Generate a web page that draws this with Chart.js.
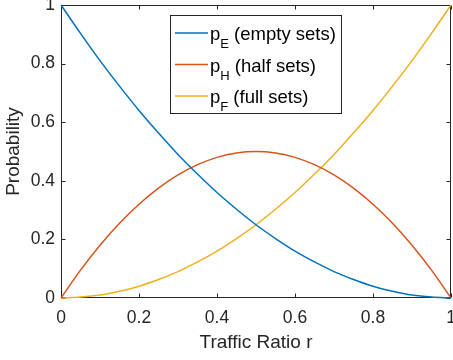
<!DOCTYPE html>
<html>
<head>
<meta charset="utf-8">
<script src="https://cdn.jsdelivr.net/npm/chart.js@4/dist/chart.umd.min.js"></script>
<style>
  html, body { margin: 0; padding: 0; background: #ffffff; }
  #wrap { position: relative; width: 453px; height: 360px; }
</style>
</head>
<body>
<div id="wrap"><canvas id="c" width="453" height="360"></canvas></div>
<script>
// ---- data ----
const rValues = [0, 0.05, 0.1, 0.15, 0.2, 0.25, 0.3, 0.35, 0.4, 0.45, 0.5,
                 0.55, 0.6, 0.65, 0.7, 0.75, 0.8, 0.85, 0.9, 0.95, 1];
const pEmpty = [1.000, 0.903, 0.810, 0.723, 0.640, 0.563, 0.490, 0.423, 0.360, 0.303, 0.250,
                0.203, 0.160, 0.123, 0.090, 0.063, 0.040, 0.023, 0.010, 0.003, 0.000];
const pHalf  = [0.000, 0.095, 0.180, 0.255, 0.320, 0.375, 0.420, 0.455, 0.480, 0.495, 0.500,
                0.495, 0.480, 0.455, 0.420, 0.375, 0.320, 0.255, 0.180, 0.095, 0.000];
const pFull  = [0.000, 0.003, 0.010, 0.023, 0.040, 0.063, 0.090, 0.123, 0.160, 0.203, 0.250,
                0.303, 0.360, 0.423, 0.490, 0.563, 0.640, 0.723, 0.810, 0.903, 1.000];
const xTicks = [0, 0.2, 0.4, 0.6, 0.8, 1];
const yTicks = [0, 0.2, 0.4, 0.6, 0.8, 1];
const seriesNames = ['p', 'p', 'p'];
const seriesSubs = ['E', 'H', 'F'];
const seriesDesc = ['(empty sets)', '(half sets)', '(full sets)'];
const xTitle = 'Traffic Ratio r';
const yTitle = 'Probability';

const colors = ['#0072BD', '#D95319', '#EDB120'];
const axisColor = '#262626';
const FONT = "'Liberation Sans', Arial, Helvetica, sans-serif";

function pts(ys) { return rValues.map((r, i) => ({ x: r, y: ys[i] })); }

const boxPlugin = {
  id: 'matlabBox',
  beforeDatasetsDraw(chart) {
    const ctx = chart.ctx, a = chart.chartArea;
    const xs = chart.scales.x, ys = chart.scales.y;
    ctx.save();
    ctx.strokeStyle = axisColor;
    ctx.lineWidth = 1;
    const L = Math.round(a.left) + 0.5, R = Math.round(a.right) - 0.5;
    const T = Math.round(a.top) + 0.5, B = Math.round(a.bottom) - 0.5;
    ctx.strokeRect(L, T, R - L, B - T);
    const tl = 4;
    ctx.beginPath();
    xTicks.forEach(v => {
      const px = Math.round(xs.getPixelForValue(v)) + 0.5;
      ctx.moveTo(px, B); ctx.lineTo(px, B - tl);
      ctx.moveTo(px, T); ctx.lineTo(px, T + tl);
    });
    yTicks.forEach(v => {
      const py = Math.round(ys.getPixelForValue(v)) + 0.5;
      ctx.moveTo(L, py); ctx.lineTo(L + tl, py);
      ctx.moveTo(R, py); ctx.lineTo(R - tl, py);
    });
    ctx.stroke();
    ctx.restore();
  },
  afterDatasetsDraw(chart) {
    const ctx = chart.ctx;
    ctx.save();
    // legend box
    const bx = 170.5, by = 15.5, bw = 171, bh = 98;
    ctx.fillStyle = '#ffffff';
    ctx.fillRect(bx, by, bw, bh);
    ctx.strokeStyle = axisColor;
    ctx.lineWidth = 1;
    ctx.strokeRect(bx, by, bw, bh);
    const rowY = [33, 64.5, 96];
    for (let i = 0; i < 3; i++) {
      const y = rowY[i];
      ctx.strokeStyle = colors[i];
      ctx.lineWidth = 1.5;
      ctx.beginPath();
      ctx.moveTo(175, y); ctx.lineTo(208, y);
      ctx.stroke();
      ctx.fillStyle = '#000000';
      ctx.textBaseline = 'alphabetic';
      ctx.textAlign = 'left';
      ctx.font = '18.5px ' + FONT;
      let x = 210;
      ctx.fillText(seriesNames[i], x, y + 7);
      x += ctx.measureText(seriesNames[i]).width;
      ctx.font = '13px ' + FONT;
      ctx.fillText(seriesSubs[i], x, y + 15);
      x += ctx.measureText(seriesSubs[i]).width;
      ctx.font = '18.5px ' + FONT;
      x += ctx.measureText(' ').width;
      ctx.fillText(seriesDesc[i], x, y + 7);
    }
    ctx.restore();
  }
};

new Chart(document.getElementById('c'), {
  type: 'line',
  data: {
    datasets: [
      { label: 'pE (empty sets)', data: pts(pEmpty), borderColor: colors[0] },
      { label: 'pH (half sets)', data: pts(pHalf), borderColor: colors[1] },
      { label: 'pF (full sets)', data: pts(pFull), borderColor: colors[2] }
    ]
  },
  options: {
    responsive: false,
    animation: false,
    devicePixelRatio: 1,
    layout: { padding: { top: 5, right: 2, left: 0, bottom: 0 } },
    elements: {
      point: { radius: 0, hoverRadius: 0 },
      line: { borderWidth: 1.5, fill: false, cubicInterpolationMode: 'monotone' }
    },
    datasets: { line: { clip: 4 } },
    plugins: { legend: { display: false }, tooltip: { enabled: false } },
    scales: {
      x: {
        type: 'linear', min: 0, max: 1,
        afterBuildTicks: s => { s.ticks = xTicks.map(v => ({ value: v })); },
        afterFit: s => { s.height = 62; s.paddingLeft = 0; s.paddingRight = 0; },
        grid: { display: false, drawTicks: false },
        border: { display: false },
        ticks: { font: { size: 17.5, family: FONT }, color: axisColor, padding: 10, maxRotation: 0,
                 callback: v => String(v) },
        title: { display: true, text: xTitle, font: { size: 19, family: FONT }, color: axisColor, padding: { top: 0, bottom: 6 } }
      },
      y: {
        type: 'linear', min: 0, max: 1,
        afterBuildTicks: s => { s.ticks = yTicks.map(v => ({ value: v })); },
        afterFit: s => { s.width = 61; s.paddingTop = 0; s.paddingBottom = 0; },
        grid: { display: false, drawTicks: false },
        border: { display: false },
        ticks: { font: { size: 17.5, family: FONT }, color: axisColor, padding: 6,
                 callback: v => String(v) },
        title: { display: true, text: yTitle, font: { size: 19, family: FONT }, color: axisColor, padding: { top: 2, bottom: 0 } }
      }
    }
  },
  plugins: [boxPlugin]
});
</script>
</body>
</html>
